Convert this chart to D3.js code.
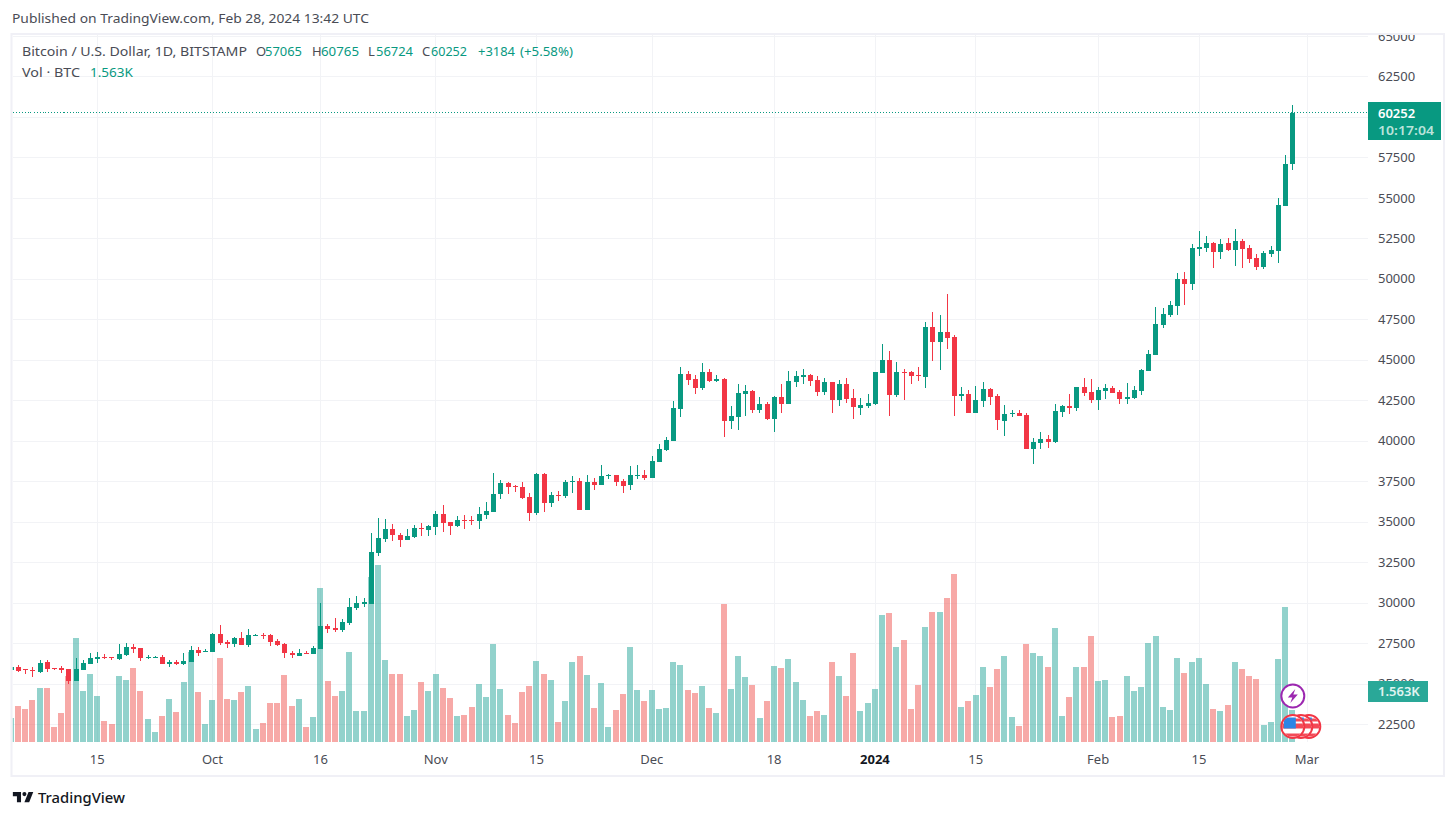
<!DOCTYPE html>
<html><head><meta charset="utf-8">
<script src="https://cdn.jsdelivr.net/npm/d3@7"></script>
<style>html,body{margin:0;padding:0;background:#fff}svg{display:block}
text{font-family:"Noto Sans",sans-serif;font-size:13px}</style></head>
<body><div id="chart"></div>
<script>
const startDay = "2023-09-03";
const opens = [25836,26021,25897,25836,25712,26330,25959,25959,25897,25156,25836,26206,26515,26639,26639,26515,26762,27256,27195,26577,26610,26639,26206,26330,26206,26330,27071,26947,26947,28059,27565,27442,27812,27380,27936,27998,27998,27627,27442,26886,26700,26886,26824,27133,28553,28430,28306,28739,29666,29913,29913,33063,33928,34546,34175,33866,34052,34607,34483,34669,35472,34978,34731,35102,35102,35040,35410,35596,36708,37387,37202,37140,36522,35534,37943,36152,36646,36584,37449,37511,35719,37449,37264,37819,37881,37511,37264,37819,37881,37696,38684,39425,39981,41958,44120,43811,43255,44244,43687,43811,41217,41464,42885,43070,41896,42266,41340,42699,42266,43625,43934,44058,43749,43008,43625,42513,43502,42637,42019,42143,42266,44182,44984,42823,44244,44244,44058,43934,47022,46096,46714,46405,42761,42885,41711,42452,43193,42761,41217,41649,41711,41587,39487,39857,40105,39919,41772,42143,42019,43317,43008,42513,43070,43255,43008,42575,42637,43070,44305,45293,47146,47764,48320,49988,49679,51841,51903,52212,51655,52212,51779,52335,51903,51285,50729,51532,51717,54497,57065];
const highs = [26083,26144,25920,26021,26453,26453,25990,26083,25920,26577,26453,26886,26947,26824,26660,27442,27503,27442,27215,26762,26700,26762,26453,26453,26886,27318,27256,27133,28121,28615,27689,27874,28183,28368,28059,28121,28059,27750,27503,27009,27133,27009,27318,29975,28677,29047,28985,30284,30407,30284,34299,35225,35163,34855,34299,34546,34793,34916,34793,35658,36028,35000,35349,35410,35349,35905,36213,38005,37572,37449,37264,37449,36769,38005,38005,36831,36893,37572,37819,37696,37881,37696,38499,37943,37900,37634,38437,38499,38190,39055,39796,40229,42452,44552,44305,44058,44799,44429,44058,43873,42143,43502,43441,43131,42699,42390,42760,43502,44305,44305,44429,44090,43996,43873,43650,43749,43873,43193,42637,42885,44270,45973,45540,44861,44429,44305,44552,47332,47950,47764,49061,46529,43317,43131,43378,43625,43255,42885,42205,41896,41896,41711,40166,40537,40352,42266,42205,42885,43340,43873,43811,43317,43502,43378,43131,43564,43378,44429,45602,48258,48196,48629,50359,50421,52150,52952,52644,52274,52459,52521,53076,52459,52088,51532,51717,52026,54990,57646,60765];
const lows = [25774,25712,25589,25403,25650,25712,25836,25650,24971,25156,25836,26206,26268,26515,26453,26453,26700,26886,26392,26515,26577,26206,26021,26144,26144,26330,26700,26947,26947,27380,27195,27256,27380,27256,27936,27750,27318,27318,26577,26577,26700,26824,26824,27133,28121,28183,28183,28615,29542,29728,29913,32878,33743,33804,33434,33866,33990,34113,34113,34175,34360,34175,34669,34546,34793,34546,35163,35596,36399,36708,36831,36399,35040,35410,35596,35905,36275,36461,36769,35719,35719,36954,37264,37634,37202,36769,36954,37634,37572,37696,38684,39363,39981,41464,43441,42885,43131,43625,43625,40229,40723,40660,41526,41711,41711,41278,40537,41711,42266,43317,43502,43378,42761,42823,41711,42143,42328,41340,41587,42019,42205,44182,41526,42699,42513,43502,43687,43255,44923,44367,45664,41526,42452,41711,41711,42081,42205,40660,40290,41464,41526,39487,38560,39487,39549,39857,41464,41649,41834,42761,42328,41896,42575,42946,42266,42266,42575,42823,44305,45293,46961,47640,47764,48382,49308,51408,51655,50667,51223,51717,50791,50667,50976,50544,50606,51347,50976,54497,56724];
const closes = [26021,25774,25836,25774,26268,25897,25897,25836,25156,25897,26268,26577,26639,26577,26577,26824,27256,27133,26577,26639,26639,26206,26330,26206,26392,27071,26886,27009,28059,27503,27442,27812,27380,27998,27998,27936,27565,27380,26886,26762,26886,26824,27195,28553,28368,28306,28801,29728,29975,30036,33125,33990,34546,34175,33866,34113,34607,34546,34731,35472,34916,34731,35102,35040,35040,35472,35658,36708,37387,37140,37140,36461,35534,37943,36152,36646,36584,37449,37511,35719,37449,37264,37819,37881,37449,37202,37881,37881,37696,38746,39487,40043,42020,44120,43749,43255,44244,43687,43811,41217,41526,42946,43070,41896,42266,41340,42699,42266,43687,43996,44058,43687,43008,43625,42513,43502,42575,42081,42205,42328,44244,44984,42823,44244,44182,43996,43996,47022,46096,46714,46344,42761,42885,41711,42513,43193,42699,41278,41649,41711,41526,39487,39919,40105,39919,41834,42143,42019,43317,42946,42513,43131,43255,42946,42575,42699,43131,44367,45355,47208,47826,48382,49988,49679,51903,51964,52212,51655,52150,51779,52335,51841,51223,50729,51594,51779,54559,57091,60252];
const volumes = [1172,1758,1612,2051,2637,2637,733,1416,3223,5079,2491,3321,2247,1026,879,3223,3028,3614,2491,1123,488,1270,2100,1465,2930,4396,2442,879,2051,4103,2100,2051,2442,2735,635,928,1905,1905,3272,1758,2100,733,1221,7521,2979,2247,2491,4396,1514,1514,8059,8645,4005,3321,3321,1270,1563,2930,2491,3321,2637,2149,1270,1319,1709,2833,2198,4786,2589,1319,928,2442,2735,3956,3321,3028,977,2002,3907,4200,3272,1661,2882,733,1563,2344,4640,2540,2002,2540,1612,1661,3907,3761,2540,2393,2735,1661,1416,6740,2589,4200,3175,2784,1172,2002,3712,3614,4054,2930,2051,1270,1514,1319,3907,3223,2247,4347,1514,1905,2589,6203,6300,4640,4982,1612,2784,5617,6349,6349,7033,8205,1709,2002,2295,3663,2686,3565,4200,1221,781,4786,4347,4200,3663,5568,1270,2198,3663,3663,5177,2979,3028,1221,1270,3223,2491,2686,4835,5177,1709,1563,4103,3370,3907,4103,2833,1612,1514,1807,3907,3565,3223,3077,830,977,4054,6593,1563];
const priceTicks = [65000,62500,60000,57500,55000,52500,50000,47500,45000,42500,40000,37500,35000,32500,30000,27500,25000,22500];
const hiddenPriceLabels = [60000];
const timeTickDays = ["2023-09-15","2023-10-01","2023-10-16","2023-11-01","2023-11-15","2023-12-01","2023-12-18","2024-01-01","2024-01-15","2024-02-01","2024-02-15","2024-03-01"];
const timeTickLabels = ["15","Oct","16","Nov","15","Dec","18","2024","15","Feb","15","Mar"];
const lastLabel = "10:17:04", lastVolLabel = "1.563K";

const UP="#089981", DOWN="#f23645", VUP="#26a69a", VDOWN="#ef5350", GRID="#f2f3f6", BORDER="#f0f0f6", TXT="#4a4c55";
const W=1456,H=818, L=12.5,R=1368,T=35,B=742;
const DAY=864e5;
const t0=Date.parse(startDay+"T00:00:00Z");
const dateOf=i=>new Date(t0+i*DAY);
const x=d3.scaleUtc().domain([new Date(t0),new Date(t0+178*DAY)]).range([11.2,1292.8]);
const y=d3.scaleLinear().domain([22500,65000]).range([724,36]);
const yv=d3.scaleLinear().domain([0,8645]).range([B,565]);
const svg=d3.select("#chart").append("svg").attr("width",W).attr("height",H);
const defs=svg.append("defs");
defs.append("clipPath").attr("id","pane").append("rect").attr("x",L).attr("y",T).attr("width",R-L).attr("height",B-T);
defs.append("clipPath").attr("id","axisclip").append("rect").attr("x",R).attr("y",T).attr("width",W-R).attr("height",B-T+1);
defs.append("clipPath").attr("id","flagclip").append("circle").attr("r",10.5);

// grid
const grid=svg.append("g").attr("shape-rendering","crispEdges").attr("stroke",GRID);
const tickDates=timeTickDays.map(d=>new Date(d+"T00:00:00Z"));
grid.selectAll("line.h").data(priceTicks).join("line").attr("x1",L).attr("x2",R).attr("y1",d=>Math.round(y(d))).attr("y2",d=>Math.round(y(d)));
grid.selectAll("line.v").data(tickDates).join("line").attr("class","v").attr("y1",T).attr("y2",B).attr("x1",d=>Math.floor(x(d))+.5).attr("x2",d=>Math.floor(x(d))+.5);

const pane=svg.append("g").attr("clip-path","url(#pane)");
const idx=d3.range(closes.length);
const up=i=>closes[i]>=opens[i];
// volume
pane.append("g").attr("shape-rendering","crispEdges").selectAll("rect").data(idx).join("rect")
 .attr("x",i=>Math.round(x(dateOf(i))-3.4))
 .attr("width",i=>Math.round(x(dateOf(i))+2.6)-Math.round(x(dateOf(i))-3.4))
 .attr("y",i=>yv(volumes[i])).attr("height",i=>B-yv(volumes[i]))
 .attr("fill",i=>up(i)?VUP:VDOWN).attr("fill-opacity",.5);
// last price line
pane.append("line").attr("x1",L).attr("x2",R).attr("y1",Math.floor(y(closes[178]))+.5).attr("y2",Math.floor(y(closes[178]))+.5)
 .attr("stroke",UP).attr("stroke-width",1).attr("stroke-dasharray","1 2").attr("shape-rendering","crispEdges");
// candles
const c=pane.append("g").attr("shape-rendering","crispEdges");
c.selectAll("rect.w").data(idx).join("rect").attr("class","w")
 .attr("x",i=>Math.floor(x(dateOf(i)))).attr("width",1)
 .attr("y",i=>y(highs[i])).attr("height",i=>y(lows[i])-y(highs[i]))
 .attr("fill",i=>up(i)?UP:DOWN);
c.selectAll("rect.b").data(idx).join("rect").attr("class","b")
 .attr("x",i=>Math.floor(x(dateOf(i)))-2).attr("width",5)
 .attr("y",i=>y(Math.max(opens[i],closes[i])))
 .attr("height",i=>Math.max(1,Math.abs(y(opens[i])-y(closes[i]))))
 .attr("fill",i=>up(i)?UP:DOWN);

// axes
const yAxis=d3.axisRight(y).tickValues(priceTicks.filter(p=>!hiddenPriceLabels.includes(p))).tickFormat(d3.format("d")).tickSize(0).tickPadding(10);
const ya=svg.append("g").attr("clip-path","url(#axisclip)").append("g").attr("transform",`translate(${R},0)`).call(yAxis);
ya.select(".domain").remove();
ya.selectAll("text").attr("fill",TXT).style("font-size","13px");
const xAxis=d3.axisBottom(x).tickValues(tickDates).tickFormat((d,i)=>timeTickLabels[i]).tickSize(0).tickPadding(13);
const xa=svg.append("g").attr("transform",`translate(-0.8,${B})`).call(xAxis);
xa.select(".domain").remove();
xa.selectAll("text").attr("fill",(d,i)=>timeTickLabels[i]==="2024"?"#131722":TXT).style("font-size","13px").style("font-weight",(d,i)=>timeTickLabels[i]==="2024"?700:400);

// frame
svg.append("path").attr("fill","none").attr("stroke",BORDER).attr("stroke-width",2).attr("d",`M11.5 34H1444V776H11.5Z`);

// price labels
svg.append("rect").attr("x",R).attr("y",102).attr("width",73).attr("height",38).attr("fill",UP);
svg.append("text").attr("x",1378).attr("y",117.5).attr("fill","#fff").attr("font-weight",600).style("font-size","13px").text(closes[178]);
svg.append("text").attr("x",1378).attr("y",135).attr("fill","#b9e3da").attr("font-weight",600).attr("textLength",56).attr("lengthAdjust","spacingAndGlyphs").style("font-size","13px").text(lastLabel);
svg.append("rect").attr("x",R).attr("y",681).attr("width",60).attr("height",21).attr("fill","#2aa898");
svg.append("text").attr("x",1378).attr("y",696).attr("fill","#e0f4f0").attr("font-weight",600).style("font-size","13px").text(lastVolLabel);

// header and legend
const tx=(s,px,py,col,len)=>{const n=svg.append("text").attr("x",px).attr("y",py).attr("fill",col).text(s);if(len)n.attr("textLength",len).attr("lengthAdjust","spacingAndGlyphs");return n;};
tx("Published on TradingView.com, Feb 28, 2024 13:42 UTC",12,23,"#4a4c55",357);
tx("Bitcoin / U.S. Dollar, 1D, BITSTAMP",22,56,TXT,225);
tx("O",256,56,TXT); tx(opens[178],265,56,UP,37);
tx("H",312,56,TXT); tx(highs[178],321,56,UP,38);
tx("L",368,56,TXT); tx(lows[178],376,56,UP,37);
tx("C",422,56,TXT); tx(closes[178],431,56,UP,36);
tx("+3184",478,56,UP,37); tx("(+5.58%)",520,56,UP,53);
tx("Vol · BTC",22,77,TXT,58); tx(lastVolLabel,90,77,UP,43);

// event icons
const ex=x(dateOf(178));
const flagG=svg.append("g");
[16,8,0].forEach(dx=>{
  const g=flagG.append("g").attr("transform",`translate(${ex+dx},726.5)`);
  g.append("circle").attr("r",11.5).attr("fill","#fff").attr("stroke",DOWN).attr("stroke-width",2);
  const s=g.append("g").attr("clip-path","url(#flagclip)");
  s.append("path").attr("d","M-11 -8H11V-5H-11Z M-11 -3H11V2H-11Z M-11 7H11V10H-11Z").attr("fill",DOWN).attr("opacity",.9);
  s.append("rect").attr("x",-9).attr("y",-9).attr("width",12).attr("height",11).attr("fill","#2c85e6");
});
const bolt=svg.append("g").attr("transform",`translate(${ex},696)`);
bolt.append("circle").attr("r",11.5).attr("fill","#fff").attr("stroke","#9c27b0").attr("stroke-width",2);
bolt.append("path").attr("d","M2.5 -7L-5 1.5H-0.5L-2.5 7L5 -1.5H0.5Z").attr("fill","#9c27b0");

// logo
const lg=svg.append("g").attr("transform","translate(11.5,788) scale(0.68)");
lg.append("path").attr("fill","#131722").attr("d","M14 6H2v6h6v9h6V6Zm12 15h-7l6-15h7l-6 15Zm-7-9a3 3 0 1 0 0-6 3 3 0 0 0 0 6Z");
svg.append("text").attr("x",38).attr("y",803).attr("fill","#131722").attr("textLength",87).attr("lengthAdjust","spacingAndGlyphs").style("font-size","15px").style("font-weight",500).text("TradingView");
</script></body></html>
